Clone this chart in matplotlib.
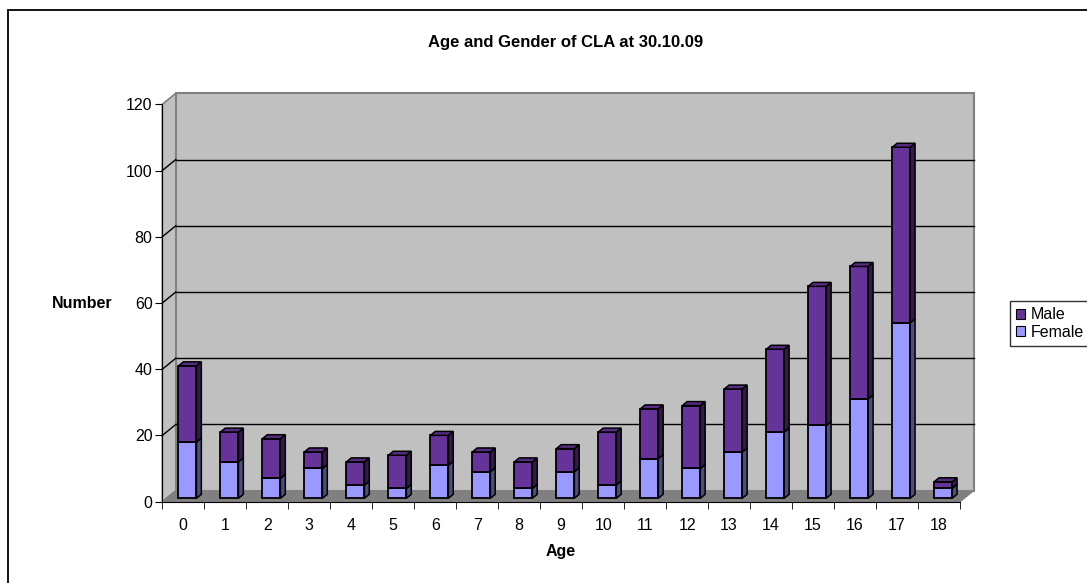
import matplotlib

matplotlib.use("Agg")
import matplotlib.pyplot as plt  # noqa: E402
from matplotlib.patches import Patch, Polygon, Rectangle  # noqa: E402
import numpy as np  # noqa: E402

# data
ages = [str(a) for a in range(19)]
female = np.array([17, 11, 6, 9, 4, 3, 10, 8, 3, 8, 4, 12, 9, 14, 20, 22, 30, 53, 3])
male = np.array([23, 9, 12, 5, 7, 10, 9, 6, 8, 7, 16, 15, 19, 19, 25, 42, 40, 53, 2])
y_ticks = [0, 20, 40, 60, 80, 100, 120]

MALE_C = "#663399"
FEMALE_C = "#9999ff"
WALL = "#c0c0c0"
FLOOR = "#808080"
EDGE = "#808080"

plt.rcParams.update({"font.family": ["Liberation Sans", "DejaVu Sans"]})

W, H = 1087, 583
fig = plt.figure(figsize=(W / 100, H / 100), dpi=100)
# front plane of the 3-D plot in pixel terms
x_left, x_right = 162.3, 960.0
y_zero, y_top = 501.7, 104.3
ax = fig.add_axes([x_left / W, 1 - y_zero / H,
                   (x_right - x_left) / W, (y_zero - y_top) / H])
n = len(ages)
ax.set_xlim(0, n)
ax.set_ylim(0, 120)
ax.set_facecolor("none")

# depth offset of the back wall, in data units
px_x = (x_right - x_left) / n
px_y = (y_zero - y_top) / 120
dx = 13.5 / px_x
dy = 11.0 / px_y

# walls and floor
ax.add_patch(Rectangle((dx, dy), n, 120, fc=WALL, ec=EDGE, lw=1.5,
                       clip_on=False, zorder=0))
ax.add_patch(Polygon([(0, 0), (dx, dy), (dx, 120 + dy), (0, 120)], closed=True,
                     fc=WALL, ec=EDGE, lw=1.2, clip_on=False, zorder=0))
ax.add_patch(Polygon([(0, 0), (n, 0), (n + dx, dy), (dx, dy)], closed=True,
                     fc=FLOOR, ec=EDGE, lw=1.0, clip_on=False, zorder=0.5))
for yv in y_ticks[1:-1]:
    ax.plot([dx, n + dx], [yv + dy, yv + dy], color="black", lw=1.0,
            clip_on=False, zorder=1)
    ax.plot([0, dx], [yv, yv + dy], color="black", lw=1.0,
            clip_on=False, zorder=1)

# 3-D stacked columns
bw = 18.0 / px_x
f0, fd = 0.31, 0.36
bx, by = f0 * dx, f0 * dy
ddx, ddy = fd * dx, fd * dy


def shade(c, k):
    rgb = np.array(matplotlib.colors.to_rgb(c))
    return tuple(rgb * k)


def column(x0, b, t, color, top):
    y0, y1 = by + b, by + t
    ax.add_patch(Rectangle((x0, y0), bw, t - b, fc=color, ec="black", lw=1.3,
                           clip_on=False, zorder=3))
    ax.add_patch(Polygon([(x0 + bw, y0), (x0 + bw + ddx, y0 + ddy),
                          (x0 + bw + ddx, y1 + ddy), (x0 + bw, y1)], closed=True,
                         fc=shade(color, 0.5), ec="black", lw=1.1,
                         clip_on=False, zorder=3))
    if top:
        ax.add_patch(Polygon([(x0, y1), (x0 + bw, y1), (x0 + bw + ddx, y1 + ddy),
                              (x0 + ddx, y1 + ddy)], closed=True,
                             fc=shade(color, 0.85), ec="black", lw=1.1,
                             clip_on=False, zorder=3))


for i in range(n):
    x0 = i + 0.5 - bw / 2 + bx
    column(x0, 0, female[i], FEMALE_C, False)
    column(x0, female[i], female[i] + male[i], MALE_C, True)

# axes
for s in ["top", "right"]:
    ax.spines[s].set_visible(False)
ax.spines["left"].set_zorder(2)
ax.spines["bottom"].set_zorder(2)
ax.set_yticks(y_ticks)
ax.set_xticks(np.arange(n) + 0.5, ages)
ax.set_xticks(np.arange(n + 1), minor=True)
ax.tick_params(axis="x", which="major", length=0, pad=12, labelsize=11.5)
ax.tick_params(axis="x", which="minor", length=5, direction="out")
ax.tick_params(axis="y", length=5, direction="out", pad=2, labelsize=11.5)
ax.set_xlabel("Age", fontsize=11.5, fontweight="bold", labelpad=8)
ax.set_ylabel("Number", fontsize=11.5, fontweight="bold", rotation=0,
              ha="center", va="center")
ax.yaxis.set_label_coords((82 - x_left) / (x_right - x_left), 0.5)

fig.text(566 / W, 1 - 43 / H, "Age and Gender of CLA at 30.10.09",
         ha="center", va="center", fontsize=12, fontweight="bold")

# chart-area border (extends past the right and bottom edges)
fig.patches.append(Rectangle((8 / W, -0.1), 1.2, 1.1 - 10 / H, fill=False,
                             ec="black", lw=1.3, transform=fig.transFigure))

handles = [Patch(fc=MALE_C, ec="black", lw=0.8, label="Male"),
           Patch(fc=FEMALE_C, ec="black", lw=0.8, label="Female")]
leg = fig.legend(handles=handles, loc="upper left",
                 bbox_to_anchor=(1010 / W, 1 - 301 / H), fontsize=11.5,
                 frameon=True, fancybox=False, edgecolor="black",
                 handlelength=0.55, handleheight=0.55, handletextpad=0.35,
                 borderpad=0.4, labelspacing=0.15, borderaxespad=0)
leg.get_frame().set_linewidth(1.0)

fig.savefig("out.png", dpi=100)
